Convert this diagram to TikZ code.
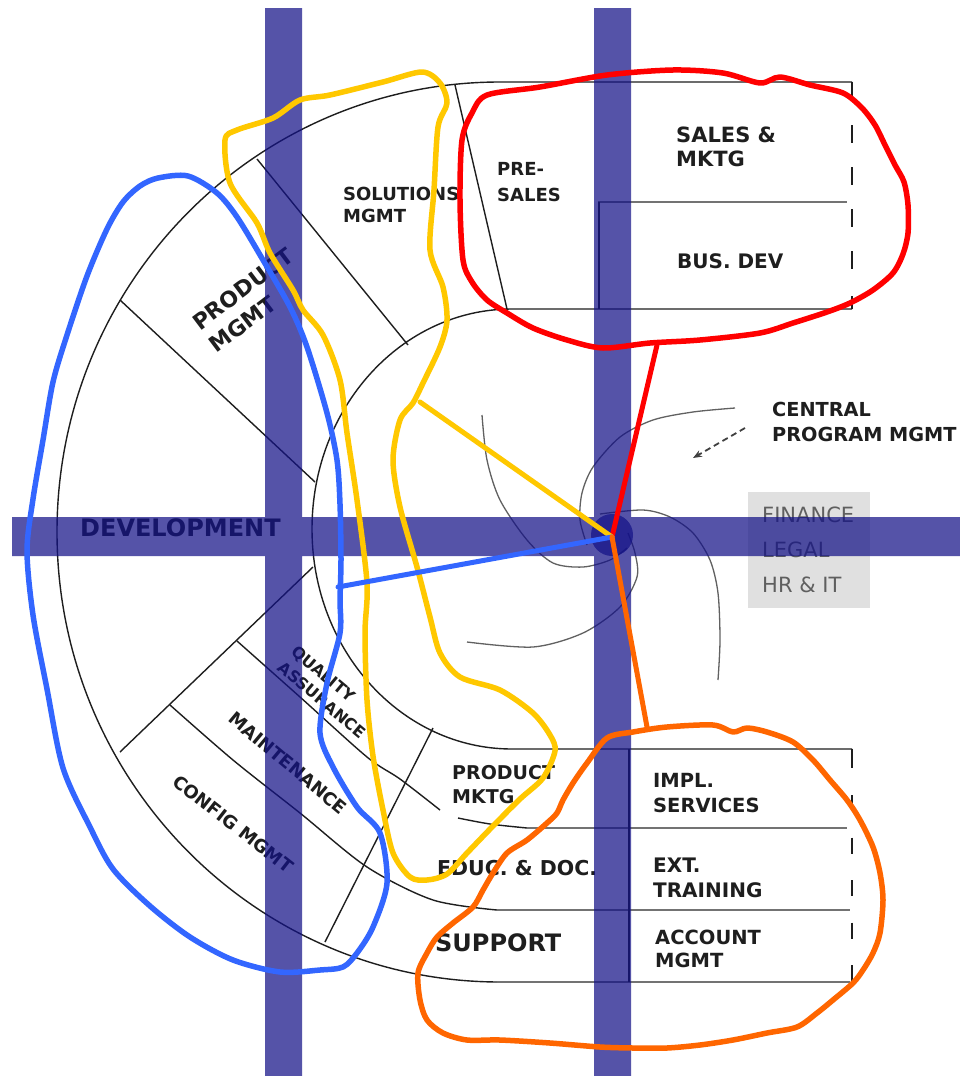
\documentclass[tikz,border=0pt]{standalone}
\usepackage{fontspec}
\setmainfont{DejaVu Sans}
\usetikzlibrary{arrows.meta}
\definecolor{barblue}{RGB}{20,18,135}
\definecolor{ink}{RGB}{30,30,30}
\definecolor{rulegray}{RGB}{115,115,115}
\definecolor{boxgray}{RGB}{224,224,224}
\definecolor{txtgray}{RGB}{95,95,95}
\definecolor{mkred}{RGB}{255,0,0}
\definecolor{mkyellow}{RGB}{255,200,0}
\definecolor{mkblue}{RGB}{51,102,255}
\definecolor{mkorange}{RGB}{255,102,0}
\begin{document}
\begin{tikzpicture}[x=1pt, y=-1pt,
  lbl/.style 2 args={font=\bfseries\fontsize{#1}{#2}\selectfont, text=ink,
              inner sep=0pt, align=left},
  thin/.style={draw=ink, line width=1.4pt},
  band/.style={draw=rulegray, line width=2.6pt},
  swirl/.style={draw=ink!70, line width=1.3pt},
  loop/.style={line width=5.5pt, line join=round},
  tie/.style={line width=5pt, line cap=round}
]
  \useasboundingbox (0,0) rectangle (960,1076);
  \fill[white] (0,0) rectangle (960,1076);

  % rings and boxes
  \draw[thin] (852,82) -- (500,82) arc[start angle=270, end angle=90, x radius=443, y radius=450];
  \draw[thin] (852,309) -- (512,309) arc[start angle=270, end angle=90, x radius=200, y radius=220] -- (852,749);
  \draw[thin] (455,85) -- (507,309);
  \draw[thin] (257,159) -- (408,345);
  \draw[thin] (120,300) -- (315,482);
  \draw[thin] (120,752) -- (313,567);
  \draw[thin] (433,728) -- (325,942);
  \draw[thin] plot[smooth] coordinates {(237,641) (300,697) (367,757) (400,779) (440,810)};
  \draw[thin] plot[smooth] coordinates {(458,818) (490,824) (527,828)};
  \draw[thin] plot[smooth] coordinates {(170,705) (233,760) (300,813) (367,867) (433,900) (497,910)};
  \draw[band] (598,202) -- (847,202);
  \draw[thin] (599,202) -- (599,309);
  \draw[band] (527,828) -- (847,828);
  \draw[band] (497,910) -- (850,910);
  \draw[band] (497,982) -- (850,982);
  \draw[thin] (629,749) -- (629,982);
  \draw[thin] (852,82) -- (852,97);
  \draw[thin, dash pattern=on 18pt off 24pt] (852,125) -- (852,275);
  \draw[thin] (852,296) -- (852,309);
  \draw[thin] (852,749) -- (852,768);
  \draw[thin, dash pattern=on 16pt off 26.5pt] (852,795) -- (852,982);

  % central swirl
  \draw[swirl] plot[smooth] coordinates {(735,408) (693,412) (653,420) (620,437) (593,467) (582,493) (580,520) (587,545)};
  \draw[swirl] plot[smooth] coordinates {(600,514) (643,510) (670,517) (693,533) (710,560) (718,593) (720,640) (718,680)};
  \draw[swirl] plot[smooth] coordinates {(467,642) (533,647) (583,633) (620,607) (637,577) (635,553) (628,533)};
  \draw[swirl] plot[smooth] coordinates {(482,415) (487,460) (500,500) (527,540) (553,563) (583,567) (610,560) (627,548)};
  \coordinate (cpmtail) at (745,428);
  \coordinate (cpmhead) at (693,458);
  \draw[ink!85, line width=1.8pt, dash pattern=on 6pt off 4pt,
        -{Stealth[length=9pt, width=7pt]}] (cpmtail) -- (cpmhead);

  % labels
  \node[lbl={21}{24}, anchor=north west] (sales) at (676,127) {SALES \&\\MKTG};
  \node[lbl={20}{24}, anchor=north west] (busdev) at (677,253) {BUS. DEV};
  \node[lbl={18}{26}, anchor=north west] (presales) at (497,162) {PRE-\\SALES};
  \node[lbl={18}{22}, anchor=north west] (solmgmt) at (343,187) {SOLUTIONS\\MGMT};
  \node[lbl={22}{28}, anchor=north west, rotate=37] (prodmgmt) at (190,318) {PRODUCT\\MGMT};
  \node[lbl={24}{28}, anchor=north west] (dev) at (80,518) {DEVELOPMENT};
  \node[lbl={16}{21}, rotate=-40] (qa) at (329,692) {QUALITY\\ASSURANCE};
  \node[lbl={18}{22}, rotate=-40] (maint) at (288,763) {MAINTENANCE};
  \node[lbl={18}{22}, rotate=-38] (config) at (233,824) {CONFIG MGMT};
  \node[lbl={19}{24}, anchor=north west] (pmktg) at (452,765) {PRODUCT\\MKTG};
  \node[lbl={20.5}{24}, anchor=north west] (educ) at (437,860) {EDUC. \& DOC.};
  \node[lbl={24}{28}, anchor=north west] (support) at (435,933) {SUPPORT};
  \node[lbl={19.5}{25}, anchor=north west] (impl) at (653,773) {IMPL.\\SERVICES};
  \node[lbl={20}{25}, anchor=north west] (exttr) at (653,858) {EXT.\\TRAINING};
  \node[lbl={19.5}{23}, anchor=north west] (acct) at (655,930) {ACCOUNT\\MGMT};
  \node[lbl={19.3}{25}, anchor=north west] (cpm) at (772,402) {CENTRAL\\PROGRAM MGMT};
  \fill[boxgray] (748,492) rectangle (870,608);
  \node[font=\fontsize{21}{35}\selectfont, text=txtgray, inner sep=0pt, align=left,
        anchor=north west] (admin) at (762,507) {FINANCE\\LEGAL\\HR \& IT};

  % bars
  \fill[barblue, fill opacity=0.72] (265,8) rectangle (302,1076)
    (594,8) rectangle (631,1076) (12,517) rectangle (960,556);
  \fill[barblue, fill opacity=0.72] (612,535) circle[radius=21];

  % marker loops
  \draw[loop, mkred] plot[smooth cycle] coordinates {(487,95) (540,87) (607,75) (673,70) (723,73)
    (760,83) (780,77) (810,85) (843,93) (862,108) (875,125) (885,145) (895,165) (904,182) (908,205)
    (908,233) (903,254) (893,273) (873,290) (850,303) (827,312) (793,323) (760,333) (700,340)
    (650,343) (603,348) (567,340) (533,328) (507,313) (487,300) (472,282) (463,260) (460,200)
    (462,140) (472,113)};
  \draw[loop, mkyellow] plot[smooth cycle] coordinates {(225,140) (237,130) (273,118) (300,100)
    (330,95) (383,82) (422,72) (440,83) (447,103) (438,127) (434,190) (430,250) (443,287) (447,320)
    (440,347) (423,383) (413,403) (400,420) (393,460) (400,507) (417,567) (430,617) (440,653)
    (460,677) (500,690) (533,713) (550,735) (555,751) (543,778) (520,799) (493,826) (467,853)
    (447,874) (427,880) (410,877) (393,853) (383,810) (373,756) (367,700) (365,633) (367,583)
    (357,500) (347,433) (340,380) (323,335) (303,310) (293,290) (270,253) (257,223) (230,183)};
  \draw[loop, mkblue] plot[smooth cycle] coordinates {(158,178) (188,176) (217,193) (237,217)
    (263,260) (290,307) (307,347) (327,413) (337,460) (340,504) (341,560) (340,600) (340,633)
    (327,683) (320,733) (333,767) (357,807) (380,833) (387,883) (373,927) (357,953) (343,967)
    (320,970) (280,972) (233,960) (190,937) (150,906) (113,869) (90,827) (63,768) (47,689)
    (33,615) (27,551) (33,499) (43,440) (53,382) (67,335) (87,276) (107,229) (123,202) (140,186)};
  \draw[loop, mkorange] plot[smooth cycle] coordinates {(607,738) (633,732) (667,727) (713,725)
    (733,732) (747,728) (767,732) (793,742) (813,760) (830,780) (847,800) (860,820) (873,847)
    (880,873) (883,900) (880,933) (873,953) (863,970) (853,983) (833,1000) (817,1013) (797,1027)
    (767,1033) (733,1040) (700,1045) (667,1048) (633,1048) (600,1047) (550,1043) (500,1040)
    (467,1040) (443,1033) (427,1020) (420,1000) (418,973) (427,953) (437,937) (453,923) (473,907)
    (483,890) (493,873) (507,853) (527,840) (547,823) (557,813) (563,800) (573,783) (587,763)};

  % ties to the hub
  \coordinate (hub) at (612,537);
  \coordinate (redk) at (657,345);
  \coordinate (yelk) at (420,402);
  \coordinate (bluk) at (338,587);
  \coordinate (ornk) at (647,727);
  \draw[tie, mkred] (redk) -- (hub);
  \draw[tie, mkyellow] (yelk) -- (hub);
  \draw[tie, mkblue] (bluk) -- (hub);
  \draw[tie, mkorange] (ornk) -- (hub);
\end{tikzpicture}
\end{document}
